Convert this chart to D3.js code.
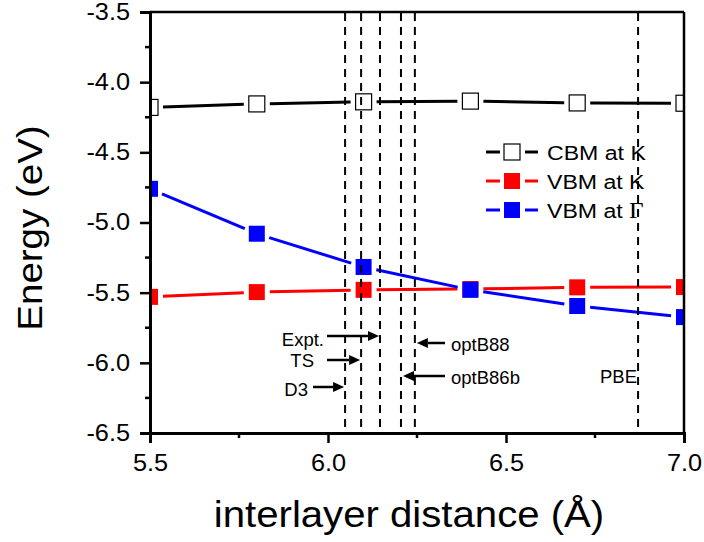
<!DOCTYPE html>
<html>
<head>
<meta charset="utf-8">
<script src="https://cdn.jsdelivr.net/npm/d3@7"></script>
<style>
  body { margin: 0; background: #fff; }
  text { font-family: "Liberation Sans", Arial, sans-serif; }
</style>
</head>
<body>
<script>
// data
let distance = [5.5, 5.8, 6.1, 6.4, 6.7, 7.0];
let cbmK = [-4.18, -4.155, -4.14, -4.135, -4.148, -4.15];
let vbmK = [-5.53, -5.496, -5.48, -5.474, -5.462, -5.46];
let vbmG = [-4.76, -5.08, -5.317, -5.48, -5.595, -5.674];

let refNames = ['D3', 'TS', 'Expt.', 'optB86b', 'optB88', 'PBE'];
let refValues = [6.048, 6.093, 6.146, 6.205, 6.244, 6.871];

let xTicks = [5.5, 6.0, 6.5, 7.0];
let yTicks = [-6.5, -6.0, -5.5, -5.0, -4.5, -4.0, -3.5];

let width = 704;
let height = 542;
let sx = 1.1; // horizontal stretch of the text

let x = d3.scaleLinear().domain([5.5, 7.0]).range([150, 684]);
let y = d3.scaleLinear().domain([-6.5, -3.5]).range([433, 12]);

let svg = d3.select('body')
.append('svg')
.attr('width', width)
.attr('height', height);

svg.append('defs').append('clipPath')
.attr('id', 'plot')
.append('rect')
.attr('x', 150).attr('y', 12)
.attr('width', 534).attr('height', 421);

function stretch(sel){
    sel.each(function(){
        let t = d3.select(this);
        let tx = +t.attr('x') || 0;
        t.attr('x', tx / sx).attr('transform', 'scale(' + sx + ',1)');
    });
}

// series
let series = [
    {name: 'CBM at K', values: cbmK, color: '#000', fill: '#fff'},
    {name: 'VBM at K', values: vbmK, color: '#ff0000', fill: '#ff0000'},
    {name: 'VBM at ', values: vbmG, color: '#0000ff', fill: '#0000ff', greek: 'Γ'}
];

let plot = svg.append('g').attr('clip-path', 'url(#plot)');
let gap = 13;
let ms = 16;

series.forEach(function(s){
    let pts = distance.map(function(d, i){ return [x(d), y(s.values[i])]; });
    let segs = d3.pairs(pts);
    plot.append('g').selectAll('line')
    .data(segs)
    .enter()
    .append('line')
    .attr('x1', function(p){ let dx = p[1][0]-p[0][0], dy = p[1][1]-p[0][1], l = Math.hypot(dx, dy); return p[0][0] + dx/l*gap; })
    .attr('y1', function(p){ let dx = p[1][0]-p[0][0], dy = p[1][1]-p[0][1], l = Math.hypot(dx, dy); return p[0][1] + dy/l*gap; })
    .attr('x2', function(p){ let dx = p[1][0]-p[0][0], dy = p[1][1]-p[0][1], l = Math.hypot(dx, dy); return p[1][0] - dx/l*gap; })
    .attr('y2', function(p){ let dx = p[1][0]-p[0][0], dy = p[1][1]-p[0][1], l = Math.hypot(dx, dy); return p[1][1] - dy/l*gap; })
    .attr('stroke', s.color)
    .attr('stroke-width', 3);

    plot.append('g').selectAll('rect')
    .data(pts)
    .enter()
    .append('rect')
    .attr('x', function(p){ return p[0] - ms/2; })
    .attr('y', function(p){ return p[1] - ms/2; })
    .attr('width', ms)
    .attr('height', ms)
    .attr('fill', s.fill)
    .attr('stroke', s.color)
    .attr('stroke-width', s.fill === '#fff' ? 1.2 : 0);
});

// legend
let legend = svg.append('g');
series.forEach(function(s, i){
    let ly = 152 + i * 29;
    legend.append('line').attr('x1', 486).attr('x2', 500).attr('y1', ly).attr('y2', ly)
    .attr('stroke', s.color).attr('stroke-width', 3);
    legend.append('line').attr('x1', 525).attr('x2', 538).attr('y1', ly).attr('y2', ly)
    .attr('stroke', s.color).attr('stroke-width', 3);
    legend.append('rect').attr('x', 512 - ms/2).attr('y', ly - ms/2)
    .attr('width', ms).attr('height', ms)
    .attr('fill', s.fill).attr('stroke', s.color)
    .attr('stroke-width', s.fill === '#fff' ? 1.2 : 0);
    let t = legend.append('g').attr('transform', 'translate(547,' + (ly + 7.5) + ')')
    .append('text')
    .attr('font-size', 21)
    .attr('transform', 'scale(' + sx + ',1)')
    .text(s.name);
    if (s.greek) {
        t.append('tspan').attr('font-family', '"Liberation Serif", serif').attr('font-size', 23).text(s.greek);
    }
});

// reference lines
svg.append('g').selectAll('line')
.data(refValues)
.enter()
.append('line')
.attr('x1', function(d){ return x(d); })
.attr('x2', function(d){ return x(d); })
.attr('y1', 13)
.attr('y2', 433)
.attr('stroke', '#000')
.attr('stroke-width', 2)
.attr('stroke-dasharray', '8,6');

// annotations: text x, arrow start x, arrow y, text centre y
let notes = [
    {i: 0, tx: 308, ax: 313, ay: 387, ty: 389},
    {i: 1, tx: 314, ax: 327, ay: 360, ty: 360},
    {i: 2, tx: 324, ax: 327, ay: 336, ty: 339},
    {i: 3, tx: 451, ax: 445, ay: 376, ty: 377},
    {i: 4, tx: 451, ax: 445, ay: 343, ty: 344}
];
let ann = svg.append('g');
notes.forEach(function(n){
    let lx = x(refValues[n.i]);
    let right = n.ax < lx;
    let tip = right ? lx - 1 : lx + 2;
    let base = right ? tip - 11 : tip + 11;
    ann.append('line').attr('x1', n.ax).attr('x2', base).attr('y1', n.ay).attr('y2', n.ay)
    .attr('stroke', '#000').attr('stroke-width', 2.5);
    ann.append('path')
    .attr('d', 'M' + tip + ',' + n.ay + 'L' + base + ',' + (n.ay - 5) + 'L' + base + ',' + (n.ay + 5) + 'Z')
    .attr('fill', '#000');
    ann.append('text')
    .attr('x', n.tx).attr('y', n.ty + 6.5)
    .attr('text-anchor', right ? 'end' : 'start')
    .attr('font-family', 'Lato, "Open Sans", sans-serif')
    .attr('font-size', 18.5)
    .text(refNames[n.i]);
});
ann.append('text')
.attr('x', 600).attr('y', 383)
.attr('font-family', 'Lato, "Open Sans", sans-serif')
.attr('font-size', 18.5)
.text(refNames[5]);

// frame
svg.append('line').attr('x1', 150).attr('x2', 684).attr('y1', 12).attr('y2', 12)
.attr('stroke', '#000').attr('stroke-width', 2.5);
svg.append('line').attr('x1', 684).attr('x2', 684).attr('y1', 12).attr('y2', 433)
.attr('stroke', '#000').attr('stroke-width', 2.5);

// axes
let xAxis = svg.append('g')
.attr('transform', 'translate(0,433)')
.call(d3.axisBottom(x).tickValues(xTicks).tickFormat(d3.format('.1f')).tickSize(10).tickPadding(12));
let yAxis = svg.append('g')
.attr('transform', 'translate(150,0)')
.call(d3.axisLeft(y).tickValues(yTicks).tickFormat(d3.format('.1f')).tickSize(10).tickPadding(10));

[xAxis, yAxis].forEach(function(a){
    a.select('.domain').attr('stroke-width', 3);
    a.selectAll('.tick line').attr('stroke-width', 2.5);
    a.selectAll('.tick text')
    .attr('font-family', '"Liberation Sans", Arial, sans-serif')
    .attr('font-size', 23)
    .attr('fill', '#000')
    .call(stretch);
});
yAxis.selectAll('.tick text').text(function(d){ return d3.format('.1f')(d).replace('−', '-'); });

// minor ticks
let xMinor = d3.range(5.75, 7.0, 0.5);
let yMinor = d3.range(-6.25, -3.5, 0.5);
svg.append('g').selectAll('line')
.data(xMinor)
.enter()
.append('line')
.attr('x1', function(d){ return x(d); })
.attr('x2', function(d){ return x(d); })
.attr('y1', 433).attr('y2', 438)
.attr('stroke', '#000').attr('stroke-width', 2.5);
svg.append('g').selectAll('line')
.data(yMinor)
.enter()
.append('line')
.attr('x1', 145).attr('x2', 150)
.attr('y1', function(d){ return y(d); })
.attr('y2', function(d){ return y(d); })
.attr('stroke', '#000').attr('stroke-width', 2.5);

// axis titles
svg.append('g').attr('transform', 'translate(409,527)')
.append('text')
.attr('text-anchor', 'middle')
.attr('font-size', 36.5)
.attr('transform', 'scale(' + sx + ',1)')
.text('interlayer distance (Å)');

svg.append('g').attr('transform', 'translate(42,228) rotate(-90)')
.append('text')
.attr('text-anchor', 'middle')
.attr('font-size', 35)
.attr('transform', 'scale(' + sx + ',1)')
.text('Energy (eV)');
</script>
</body>
</html>
